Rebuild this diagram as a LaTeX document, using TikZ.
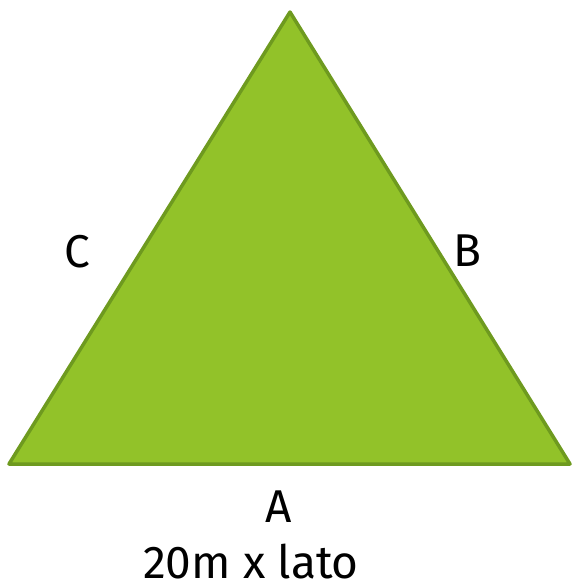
\documentclass[tikz,border=0pt]{standalone}
\usepackage{fontspec}
\setmainfont{Fira Sans}
\definecolor{trifill}{HTML}{92C229}
\definecolor{triline}{HTML}{6E9A1F}
\begin{document}
\begin{tikzpicture}[x=1pt,y=-1pt,
  tri/.style={fill=trifill,draw=triline,line width=3.5pt,line join=round},
  lbl/.style={font=\fontsize{46}{50}\selectfont,anchor=base,inner sep=0pt}]
\useasboundingbox (0,0) rectangle (572,584);
\coordinate (top) at (290,12);
\coordinate (bl) at (9,464);
\coordinate (br) at (570,464);
\draw[tri] (top) -- (br) -- (bl) -- cycle;
\node[lbl] (c) at (77,267) {C};
\node[lbl] (b) at (467,266) {B};
\node[lbl] (a) at (279,522) {A};
\node[lbl] (side) at (251,578) {20m x lato};
\end{tikzpicture}
\end{document}
